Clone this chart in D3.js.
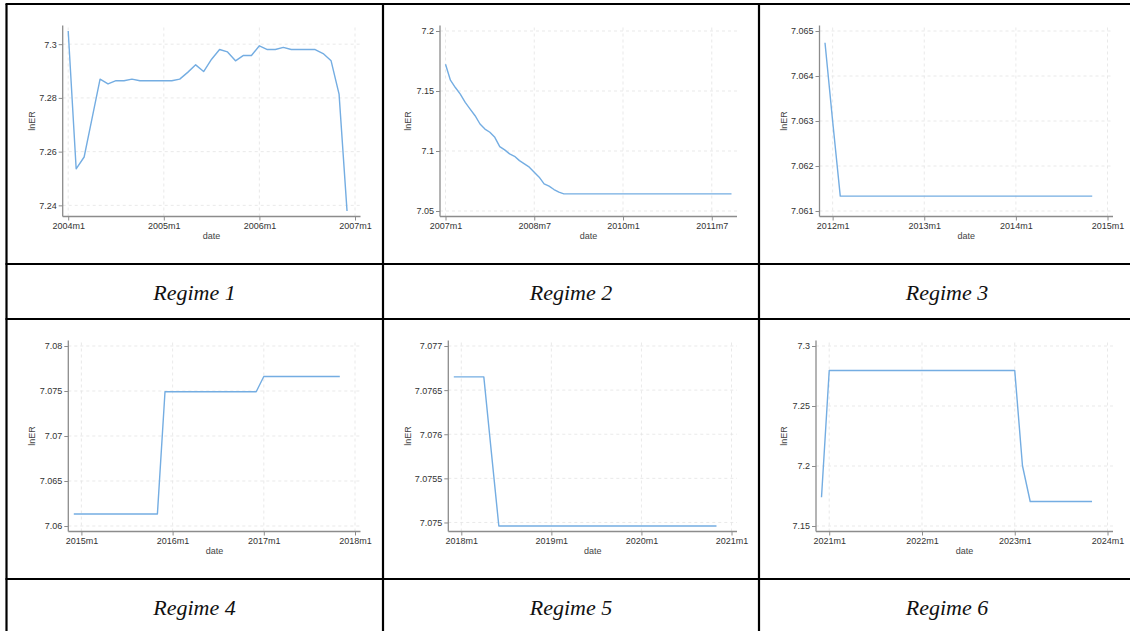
<!DOCTYPE html>
<html>
<head>
<meta charset="utf-8">
<script src="https://cdn.jsdelivr.net/npm/d3@7"></script>
<style>
  html, body { margin: 0; padding: 0; background: #fff; }
  svg { display: block; }
</style>
</head>
<body>
<svg id="chart" width="1130" height="631"></svg>
<script>
// ---------------- DATA ----------------
const regimeLabels = ["Regime 1", "Regime 2", "Regime 3", "Regime 4", "Regime 5", "Regime 6"];
const regimeStarts = ["2004m1", "2007m1", "2011m12", "2014m12", "2017m12", "2020m12"];

const regime1Values = [
  7.3049, 7.2536, 7.2580, 7.2725, 7.2870, 7.2852, 7.2864, 7.2864, 7.2870, 7.2864, 7.2864, 7.2864,
  7.2864, 7.2864, 7.2870, 7.2895, 7.2923, 7.2898, 7.2944, 7.2980, 7.2971, 7.2938, 7.2958, 7.2958,
  7.2994, 7.2980, 7.2980, 7.2988, 7.2980, 7.2980, 7.2980, 7.2980, 7.2965, 7.2938, 7.2814, 7.2379
];
const regime2Values = [
  7.1723, 7.1590, 7.1529, 7.1474, 7.1405, 7.1349, 7.1294, 7.1225, 7.1183, 7.1156, 7.1114, 7.1037,
  7.1009, 7.0976, 7.0956, 7.0920, 7.0893, 7.0865, 7.0823, 7.0782, 7.0726, 7.0707, 7.0679, 7.0657,
  7.0643, 7.0643, 7.0643, 7.0643, 7.0643, 7.0643, 7.0643, 7.0643, 7.0643, 7.0643, 7.0643, 7.0643,
  7.0643, 7.0643, 7.0643, 7.0643, 7.0643, 7.0643, 7.0643, 7.0643, 7.0643, 7.0643, 7.0643, 7.0643,
  7.0643, 7.0643, 7.0643, 7.0643, 7.0643, 7.0643, 7.0643, 7.0643, 7.0643, 7.0643, 7.0643
];
const regime3Values = [
  7.06474, 7.06300, 7.06133, 7.06133, 7.06133, 7.06133, 7.06133, 7.06133, 7.06133, 7.06133, 7.06133, 7.06133,
  7.06133, 7.06133, 7.06133, 7.06133, 7.06133, 7.06133, 7.06133, 7.06133, 7.06133, 7.06133, 7.06133, 7.06133,
  7.06133, 7.06133, 7.06133, 7.06133, 7.06133, 7.06133, 7.06133, 7.06133, 7.06133, 7.06133, 7.06133, 7.06133
];
const regime4Values = [
  7.06133, 7.06133, 7.06133, 7.06133, 7.06133, 7.06133, 7.06133, 7.06133, 7.06133, 7.06133, 7.06133, 7.06133,
  7.07492, 7.07492, 7.07492, 7.07492, 7.07492, 7.07492, 7.07492, 7.07492, 7.07492, 7.07492, 7.07492, 7.07492,
  7.07492, 7.07661, 7.07661, 7.07661, 7.07661, 7.07661, 7.07661, 7.07661, 7.07661, 7.07661, 7.07661, 7.07661
];
const regime5Values = [
  7.07665, 7.07665, 7.07665, 7.07665, 7.07665, 7.07580, 7.07496, 7.07496, 7.07496, 7.07496, 7.07496, 7.07496,
  7.07496, 7.07496, 7.07496, 7.07496, 7.07496, 7.07496, 7.07496, 7.07496, 7.07496, 7.07496, 7.07496, 7.07496,
  7.07496, 7.07496, 7.07496, 7.07496, 7.07496, 7.07496, 7.07496, 7.07496, 7.07496, 7.07496, 7.07496, 7.07496
];
const regime6Values = [
  7.1740, 7.2796, 7.2796, 7.2796, 7.2796, 7.2796, 7.2796, 7.2796, 7.2796, 7.2796, 7.2796, 7.2796,
  7.2796, 7.2796, 7.2796, 7.2796, 7.2796, 7.2796, 7.2796, 7.2796, 7.2796, 7.2796, 7.2796, 7.2796,
  7.2796, 7.2796, 7.2002, 7.1704, 7.1704, 7.1704, 7.1704, 7.1704, 7.1704, 7.1704, 7.1704, 7.1704
];

const yTicks1 = [7.24, 7.26, 7.28, 7.3];
const yTicks2 = [7.05, 7.1, 7.15, 7.2];
const yTicks3 = [7.061, 7.062, 7.063, 7.064, 7.065];
const yTicks4 = [7.06, 7.065, 7.07, 7.075, 7.08];
const yTicks5 = [7.075, 7.0755, 7.076, 7.0765, 7.077];
const yTicks6 = [7.15, 7.2, 7.25, 7.3];

const xTicks1 = ["2004m1", "2005m1", "2006m1", "2007m1"];
const xTicks2 = ["2007m1", "2008m7", "2010m1", "2011m7"];
const xTicks3 = ["2012m1", "2013m1", "2014m1", "2015m1"];
const xTicks4 = ["2015m1", "2016m1", "2017m1", "2018m1"];
const xTicks5 = ["2018m1", "2019m1", "2020m1", "2021m1"];
const xTicks6 = ["2021m1", "2022m1", "2023m1", "2024m1"];

const xTitle = "date";
const yTitle = "lnER";

// ---------------- LAYOUT ----------------
const seriesValues = [regime1Values, regime2Values, regime3Values, regime4Values, regime5Values, regime6Values];
const yTickSets = [yTicks1, yTicks2, yTicks3, yTicks4, yTicks5, yTicks6];
const xTickSets = [xTicks1, xTicks2, xTicks3, xTicks4, xTicks5, xTicks6];

const colLefts = [6.5, 383, 759];
const colWidth = 376;
const chartRowTops = [4, 319];
const chartRowH = 260;
const labelRowH = 55;
const yAxisOffsets = [56.2, 57, 60.5, 61.8, 65.3, 57];
const plotRightOffset = 354;
const plotTopOffset = 21.5;
const plotBottomOffset = 212.5;
const pad = 5.5;

const lineColor = "#74ade2";
const axisColor = "#8c8c8c";
const gridColor = "#e3e3e3";
const textColor = "#333";

const svg = d3.select("#chart");
svg.append("rect").attr("width", 1130).attr("height", 631).attr("fill", "#fff");

function parseMonth(s) {
  const m = s.match(/(\d+)m(\d+)/);
  return (+m[1]) * 12 + (+m[2] - 1);
}

seriesValues.forEach((vals, i) => {
  const col = i % 3, row = Math.floor(i / 3);
  const cx = colLefts[col], cy = chartRowTops[row];
  const L = cx + yAxisOffsets[i];
  const R = cx + plotRightOffset;
  const T = cy + plotTopOffset;
  const B = cy + plotBottomOffset;

  const start = parseMonth(regimeStarts[i]);
  const data = vals.map((v, k) => ({ t: start + k, v }));
  const xt = xTickSets[i].map(parseMonth);
  const yt = yTickSets[i];

  const xDom = [Math.min(start, d3.min(xt)), Math.max(start + vals.length - 1, d3.max(xt))];
  const yDom = [Math.min(d3.min(vals), d3.min(yt)), Math.max(d3.max(vals), d3.max(yt))];

  const x = d3.scaleLinear().domain(xDom).range([L + pad, R - pad]);
  const y = d3.scaleLinear().domain(yDom).range([B - pad, T + pad]);

  const g = svg.append("g");

  // gridlines
  g.append("g").selectAll("line").data(yt).join("line")
    .attr("x1", L).attr("x2", R)
    .attr("y1", d => y(d)).attr("y2", d => y(d))
    .attr("stroke", gridColor).attr("stroke-width", 0.8).attr("stroke-dasharray", "3,3");
  g.append("g").selectAll("line").data(xt).join("line")
    .attr("x1", d => x(d)).attr("x2", d => x(d))
    .attr("y1", B).attr("y2", T)
    .attr("stroke", gridColor).attr("stroke-width", 0.8).attr("stroke-dasharray", "3,3");

  // axes
  const yAxis = d3.axisLeft(y).tickValues(yt).tickFormat(d3.format("~g")).tickSize(4).tickPadding(2);
  const yg = g.append("g").attr("transform", `translate(${L},0)`).call(yAxis);
  yg.select(".domain").attr("d", `M0,${T}V${B}`).attr("stroke", axisColor).attr("stroke-width", 1.3);

  const xLabels = new Map(xTickSets[i].map(s => [parseMonth(s), s]));
  const xAxis = d3.axisBottom(x).tickValues(xt).tickFormat(d => xLabels.get(d)).tickSize(4).tickPadding(2);
  const xg = g.append("g").attr("transform", `translate(0,${B})`).call(xAxis);
  xg.select(".domain").attr("d", `M${L},0H${R}`).attr("stroke", axisColor).attr("stroke-width", 1.3);

  [yg, xg].forEach(a => {
    a.selectAll(".tick line").attr("stroke", axisColor).attr("stroke-width", 1);
    a.selectAll(".tick text").attr("fill", textColor)
      .style("font-family", "'Liberation Sans', Arial, sans-serif").style("font-size", "9px");
  });

  // titles
  g.append("text").attr("x", (L + R) / 2).attr("y", cy + 235)
    .attr("text-anchor", "middle").attr("fill", "#444")
    .style("font-family", "'Liberation Sans', Arial, sans-serif").style("font-size", "9px")
    .text(xTitle);
  g.append("text")
    .attr("transform", `translate(${cx + 28},${(T + B) / 2}) rotate(-90)`)
    .attr("text-anchor", "middle").attr("fill", "#444")
    .style("font-family", "'Liberation Sans', Arial, sans-serif").style("font-size", "9px")
    .text(yTitle);

  // series line
  g.append("path").datum(data)
    .attr("fill", "none").attr("stroke", lineColor).attr("stroke-width", 1.4)
    .attr("stroke-linejoin", "round")
    .attr("d", d3.line().x(d => x(d.t)).y(d => y(d.v)));

  // regime label
  const ly = cy + chartRowH + labelRowH / 2;
  svg.append("text").attr("x", cx + colWidth / 2).attr("y", ly + 8)
    .attr("text-anchor", "middle").attr("fill", "#111")
    .style("font-family", "'Liberation Serif', 'Times New Roman', serif")
    .style("font-style", "italic").style("font-size", "22px")
    .text(regimeLabels[i]);
});

// table borders
const vLines = [colLefts[0], colLefts[1], colLefts[2], colLefts[2] + colWidth];
const hLines = [chartRowTops[0], chartRowTops[0] + chartRowH, chartRowTops[1], chartRowTops[1] + chartRowH, chartRowTops[1] + chartRowH + labelRowH];
const bg = svg.append("g");
bg.selectAll(".v").data(vLines).join("line")
  .attr("x1", d => d).attr("x2", d => d).attr("y1", hLines[0]).attr("y2", 640)
  .attr("stroke", "#000").attr("stroke-width", 2.2);
bg.selectAll(".h").data(hLines).join("line")
  .attr("x1", vLines[0] - 1).attr("x2", 1140).attr("y1", d => d).attr("y2", d => d)
  .attr("stroke", "#000").attr("stroke-width", 2.2);
</script>
</body>
</html>
